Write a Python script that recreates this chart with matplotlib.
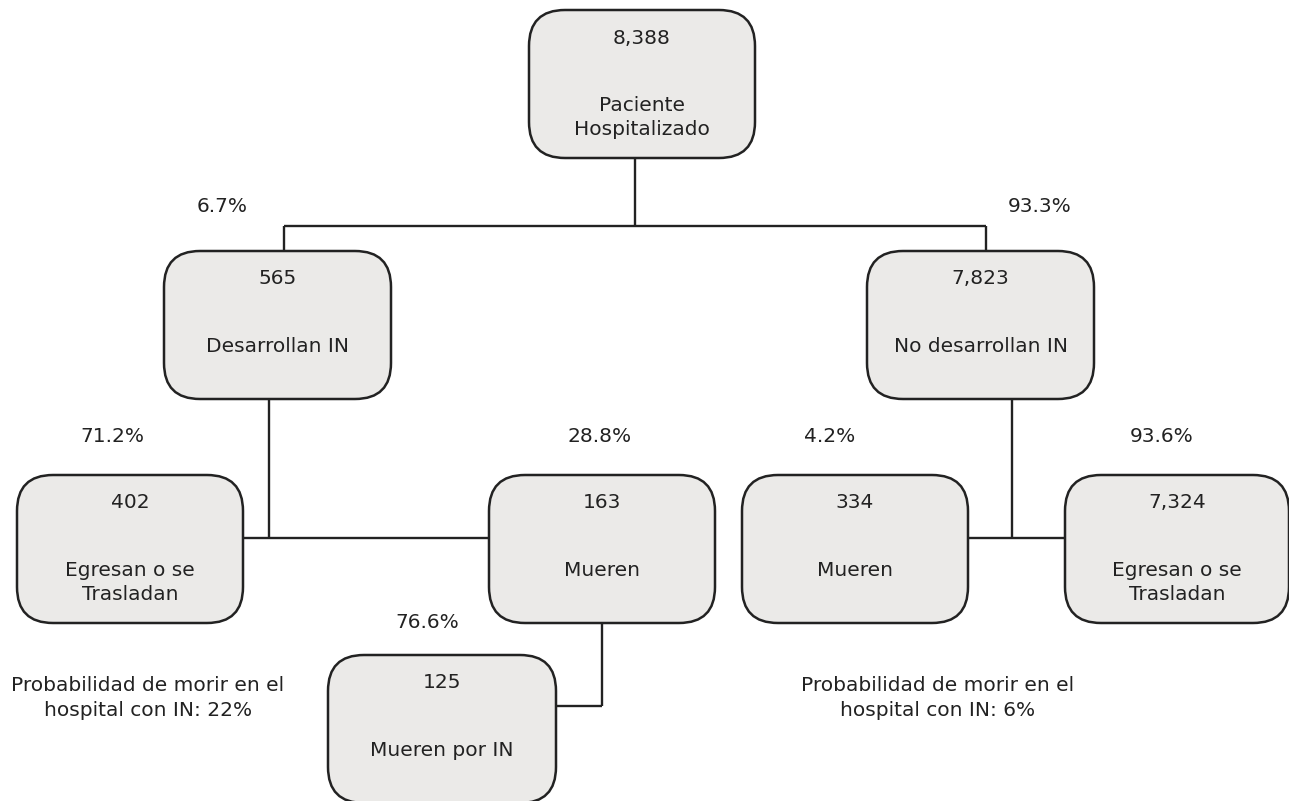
import matplotlib
matplotlib.use("Agg")
import matplotlib.pyplot as plt
from matplotlib.patches import FancyBboxPatch

# node values
counts = [8388, 565, 7823, 402, 163, 334, 7324, 125]
labels = ["Paciente\nHospitalizado", "Desarrollan IN", "No desarrollan IN",
          "Egresan o se\nTrasladan", "Mueren", "Mueren",
          "Egresan o se\nTrasladan", "Mueren por IN"]
pcts = [6.7, 93.3, 71.2, 28.8, 4.2, 93.6, 76.6]
death_prob = [22, 6]

# layout (pixels)
box_x = [529, 164, 867, 17, 489, 742, 1065, 328]
box_y = [10, 251, 251, 475, 475, 475, 475, 655]
box_w = [226, 227, 227, 226, 226, 226, 224, 228]
box_h = 148
pct_pos = [(222, 207), (1040, 207), (112, 437), (600, 437),
           (830, 437), (1162, 437), (427, 622)]
note_pos = [(148, 698), (938, 698)]

fig = plt.figure(figsize=(12.89, 8.01), dpi=100)
ax = fig.add_axes([0, 0, 1, 1])
ax.set_xlim(0, 1289)
ax.set_ylim(801, 0)
ax.axis("off")

fs = 14.5
col = "#222222"

# connectors
segs = [
    [(635, 158), (635, 226)],
    [(284, 226), (986, 226)],
    [(284, 226), (284, 252)],
    [(986, 226), (986, 252)],
    [(269, 399), (269, 538)],
    [(243, 538), (489, 538)],
    [(1012, 399), (1012, 538)],
    [(968, 538), (1065, 538)],
    [(602, 624), (602, 706)],
    [(556, 706), (602, 706)],
]
for s in segs:
    (x0, y0), (x1, y1) = s
    ax.plot([x0, x1], [y0, y1], color=col, lw=1.7, solid_capstyle="butt", zorder=1)

for i in range(len(counts)):
    x, y, w = box_x[i], box_y[i], box_w[i]
    box = FancyBboxPatch((x, y), w, box_h,
                         boxstyle="round,pad=0,rounding_size=36",
                         facecolor="#ebeae8", edgecolor=col, lw=1.8, zorder=2)
    ax.add_patch(box)
    cx = x + w / 2
    ax.text(cx, y + 28, f"{counts[i]:,}", ha="center", va="center",
            fontsize=fs, color=col, zorder=3)
    nl = labels[i].count("\n")
    ax.text(cx, y + 95 + 12.5 * nl, labels[i], ha="center", va="center",
            fontsize=fs, color=col, linespacing=1.38, zorder=3)

for p, (px, py) in zip(pcts, pct_pos):
    ax.text(px, py, f"{p}%", ha="center", va="center", fontsize=fs, color=col)

for d, (nx, ny) in zip(death_prob, note_pos):
    ax.text(nx, ny, f"Probabilidad de morir en el\nhospital con IN: {d}%",
            ha="center", va="center", fontsize=fs, color=col, linespacing=1.38)

fig.savefig("out.png", dpi=100)
